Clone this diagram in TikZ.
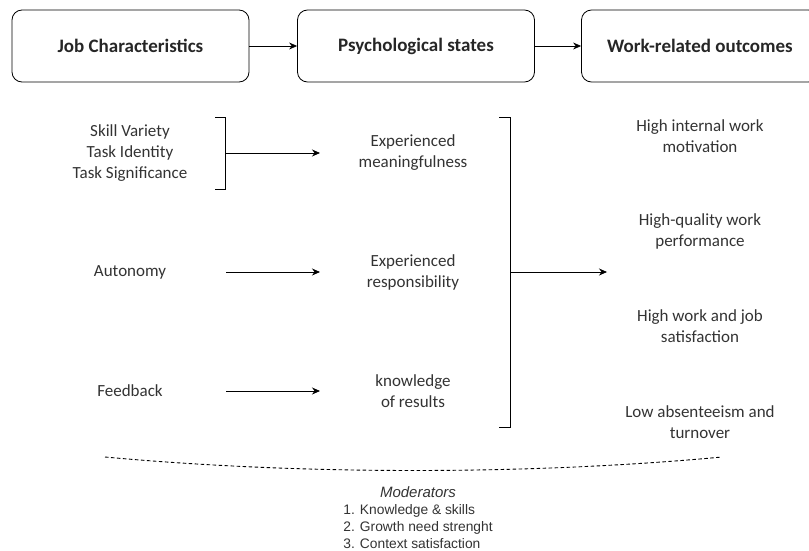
\documentclass[tikz,border=0pt]{standalone}
\usepackage{fontspec}
\setmainfont{Carlito}
\newfontfamily\modfont{Liberation Sans}
\usetikzlibrary{arrows.meta, positioning}

\tikzset{
	stage/.style = {draw, rounded corners = 10pt, minimum width = 237pt, minimum height = 72pt,
		font = \fontsize{19}{22}\selectfont\bfseries, text = black!85},
	item/.style = {align = center, font = \fontsize{17}{21}\selectfont, text = black!80},
	arr/.style = {-{Stealth[length = 8pt, width = 7pt]}, line width = 0.8pt},
}

\begin{document}
\begin{tikzpicture}[x = 1pt, y = -1pt, line width = 0.8pt]
		\useasboundingbox (0,0) rectangle (809,551);
		
		% top row
		\node [stage] (job) at (130.5,46) {Job Characteristics};
		\node [stage] (psych) at (416,46) {Psychological states};
		\node [stage] (work) at (700,46) {Work-related outcomes};
		\draw [arr] (job) -- (psych);
		\draw [arr] (psych) -- (work);
		
		% job characteristics
		\node [item] (skills) at (130,153) {Skill Variety\\Task Identity\\Task Significance};
		\node [item] (auto) at (130,272) {Autonomy};
		\node [item] (feed) at (130,391) {Feedback};
		
		% psychological states
		\node [item] (mean) at (413,153) {Experienced\\meaningfulness};
		\node [item] (resp) at (413,272) {Experienced\\responsibility};
		\node [item] (know) at (413,391) {knowledge\\of results};
		
		% outcomes
		\node [item] (motiv) at (700,136) {High internal work\\motivation};
		\node [item] (perf) at (700,231) {High-quality work\\performance};
		\node [item] (satis) at (700,326) {High work and job\\satisfaction};
		\node [item] (absent) at (700,422) {Low absenteeism and\\turnover};
		
		% small bracket
		\coordinate (skills bracket) at (225,153);
		\draw (215,117) -- (225,117) -- (225,189) -- (215,189);
		\coordinate (mean tip) at (320,153);
		\coordinate (resp tip) at (320,272);
		\coordinate (know tip) at (320,391);
		\coordinate (auto end) at (226,272);
		\coordinate (feed end) at (226,391);
		\draw [arr] (skills bracket) -- (mean tip);
		\draw [arr] (auto end) -- (resp tip);
		\draw [arr] (feed end) -- (know tip);
		
		% large bracket
		\coordinate (psych bracket) at (510,272);
		\coordinate (outcome tip) at (607,272);
		\draw (499,117) -- (510,117) -- (510,427) -- (499,427);
		\draw [arr] (psych bracket) -- (outcome tip);
		
		% moderators
		\coordinate (curve left) at (105,457);
		\coordinate (curve right) at (722,457);
		\draw [dash pattern = on 3.5pt off 2.5pt, line width = 0.9pt] (curve left) .. controls (300,475) and (530,475) .. (curve right);
		\node [font = \modfont\fontsize{15}{17}\selectfont\itshape, text = black!80] (mod) at (418,492) {Moderators};
		\node [below = 0pt of mod, align = left, font = \modfont\fontsize{13.8}{17}\selectfont, text = black!80] (modlist)
			{1. Knowledge \& skills\\2. Growth need strenght\\3. Context satisfaction};
	\end{tikzpicture}
\end{document}
